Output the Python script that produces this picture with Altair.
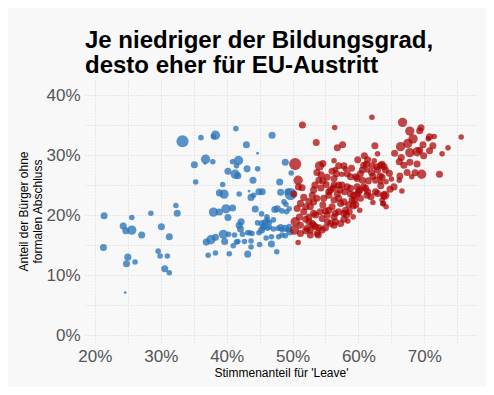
import altair as alt
import pandas as pd

# Stimmenanteil für 'Leave' (%), Anteil ohne Abschluss (%), Größenklasse (1-5)
remain_leave = [21.4,21.3,24.3,24.7,25.6,25.6,27.1,25.0,24.8,26.1,24.6,28.5,30.1,31.3,32.3,32.5,29.6,29.9,31.0,30.6,31.3,
    33.3,36.1,38.3,38.0,41.4,35.1,36.8,36.7,37.9,35.3,43.0,40.9,41.8,41.5,41.3,41.7,40.2,43.1,39.4,39.6,38.9,41.9,38.0,38.9,39.9,40.9,40.2,42.2,41.9,42.1,42.4,43.2,39.5,37.6,36.9,39.7,41.2,41.5,41.0,38.3,37.2,40.4,43.2,
    46.9,44.7,44.7,44.0,48.05,48.9,49.8,44.9,43.4,43.7,44.1,45.3,48.2,49.3,49.7,44.35,47.3,47.7,49.0,49.5,49.1,48.4,46.2,47.1,45.4,45.7,45.9,44.7,43.5,43.85,44.9,45.3,45.5,46.2,46.5,47.1,47.8,48.2,48.4,48.9,49.3,49.5,49.6,46.0,46.8,47.9,48.4,48.9,46.8,47.6,45.0,43.7,43.7,41.7,
    48.7,45.4,46.1,46.5,42.7,38.3,40.3]
remain_ohne = [19.9,14.6,18.2,17.4,17.5,19.6,16.7,13.0,11.9,12.2,7.1,20.3,18.05,16.4,21.6,20.3,14.0,13.2,13.2,11.05,10.4,
    32.3,32.9,33.3,33.05,34.4,28.4,29.3,28.6,28.9,25.5,31.7,28.9,29.1,28.2,26.8,26.55,27.3,27.7,25.1,23.5,23.7,23.5,20.5,20.5,21.05,21.2,19.6,18.9,18.3,17.7,16.8,17.05,16.8,15.9,15.5,15.6,16.7,15.5,14.9,13.7,13.3,13.55,13.5,
    33.3,30.3,27.7,25.8,25.5,28.8,27.0,23.9,24.0,22.95,23.3,20.2,23.8,23.9,23.5,21.0,20.95,21.05,21.8,21.05,20.55,20.7,19.2,19.2,18.6,18.2,18.8,18.7,17.05,16.95,17.05,17.5,17.8,17.8,18.0,17.7,17.8,17.95,17.6,17.8,17.55,18.1,17.2,16.2,16.4,16.4,16.7,16.55,15.2,13.9,15.1,15.7,14.7,15.6,
    22.2,23.9,19.7,18.75,15.6,16.3,16.8]
remain_klasse = [3,3,3,3,4,2,3,3,3,2,1,2,3,3,2,3,2,2,2,3,2,
    5,2,4,2,2,3,4,1,2,2,3,2,4,2,4,3,3,3,2,4,3,2,4,3,4,3,3,3,3,3,2,2,4,4,3,3,2,2,2,2,2,2,3,
    3,1,2,3,3,3,2,3,1,3,2,2,3,3,5,3,3,3,2,2,2,2,2,2,3,3,3,2,2,2,2,3,2,2,2,2,2,3,2,3,2,2,3,2,2,2,2,2,3,2,2,2,2,2,
    2,3,2,2,2,3,2]

leave_leave = [51.5,56.4,62.05,53.6,56.8,57.6,62.5,50.4,54.1,54.6,56.3,57.0,57.8,58.0,56.0,56.7,57.5,53.7,54.0,54.6,
    59.9,60.9,61.2,62.05,62.8,63.6,62.4,60.6,62.0,60.6,61.5,62.2,62.6,63.3,
    50.85,50.9,51.45,51.7,53.4,54.3,55.1,55.5,56.2,56.8,57.5,57.9,58.8,59.3,60.05,61.1,61.3,62.2,62.6,63.9,63.7,60.2,59.2,58.4,56.5,55.3,55.0,54.0,53.9,
    50.7,51.05,50.4,50.3,51.2,52.0,52.5,52.7,53.2,53.5,54.2,54.6,55.0,55.5,56.0,57.3,57.0,56.3,57.8,50.85,53.0,53.7,52.5,58.55,59.05,59.6,60.3,
    66.7,67.8,69.5,69.3,68.3,70.8,71.5,70.6,75.6,69.8,71.3,70.8,69.9,73.6,72.7,67.5,66.4,67.8,68.9,69.3,65.5,66.5,66.2,66.9,67.8,68.9,67.4,68.6,69.6,68.1,72.3,
    63.4,63.9,64.1,64.7,63.6,65.0,66.3,66.2,64.8,65.4,66.6,64.0,63.8,64.2,63.4,64.2,63.6,62.9,61.9,61.4,60.8,60.2,59.8,59.4,59.2,58.6,58.2,57.8,
    62.9,58.95,61.4,60.8,62.9,61.35,60.3,59.8,63.4,50.2,53.2,54.35,55.8,56.3,57.0,57.2,58.3,58.8,59.8,51.2,52.0,52.7,53.2,54.75,55.5,56.3,57.0,57.8,
    51.7,52.5,53.2,54.5,55.25,56.5,58.05,52.2,53.0,53.5,55.8,57.3,51.2,52.0,52.7,53.75,54.5,56.3,56.5,58.3,58.8,59.6,55.25,56.3]
leave_ohne = [35.0,34.6,36.3,32.1,31.2,31.7,31.55,28.5,28.2,28.6,29.05,28.2,28.2,27.7,27.3,26.9,26.8,27.1,25.8,25.7,
    29.2,29.9,28.45,28.2,28.05,28.45,29.05,27.5,27.1,25.8,25.7,26.45,25.8,26.5,
    25.8,24.7,24.55,22.95,25.0,24.5,25.1,23.9,24.5,23.55,25.0,23.9,24.45,23.3,23.9,24.45,23.3,22.1,23.9,23.3,21.9,20.8,19.7,19.0,18.9,18.9,17.9,17.9,16.7,
    21.1,19.7,18.9,17.5,18.3,19.3,18.9,17.5,18.3,20.0,20.55,21.7,20.7,20.8,21.4,21.95,20.55,19.7,20.3,15.45,23.3,22.8,22.3,21.7,22.5,21.7,22.8,
    35.45,34.0,34.55,34.05,32.7,33.05,33.1,32.7,33.0,31.7,31.55,30.7,29.9,31.2,30.2,31.95,31.4,30.4,30.55,30.8,30.3,29.6,28.9,28.3,28.8,28.5,27.1,27.05,26.8,26.4,26.8,
    28.3,28.05,27.5,26.95,26.3,26.0,26.5,25.8,24.3,24.7,24.0,23.3,21.95,21.4,24.9,25.55,22.5,23.6,23.05,23.9,24.7,24.2,23.5,22.5,21.5,20.55,20.0,19.3,
    30.2,27.8,29.2,28.3,27.5,27.5,26.9,26.1,25.55,23.5,24.2,26.7,24.2,25.0,25.0,24.2,24.7,23.5,24.7,21.95,21.4,21.4,22.2,22.8,23.3,22.5,22.8,22.2,
    20.55,19.7,20.3,19.45,20.0,20.3,20.8,17.8,18.6,18.05,18.6,18.6,16.95,17.4,16.7,16.95,17.5,18.3,27.6,26.9,26.4,26.4,26.3,26.1]
leave_klasse = [3,2,2,3,3,3,3,5,4,3,2,3,3,2,3,3,2,3,3,3,
    3,3,3,3,3,3,2,3,3,3,3,3,3,3,
    4,3,3,3,3,3,3,3,3,3,3,3,3,3,3,3,3,2,3,3,2,2,2,2,3,3,3,3,3,
    3,3,4,4,3,3,3,3,3,3,3,3,3,3,3,3,3,3,3,2,3,3,3,3,3,3,3,
    4,4,3,3,4,3,2,2,2,3,3,3,3,2,2,4,4,4,4,3,3,3,3,3,3,3,3,3,4,2,3,
    3,3,3,3,3,2,3,2,3,3,2,4,2,2,3,2,2,3,3,3,3,3,3,3,3,3,3,3,
    2,3,3,3,3,2,3,3,2,3,3,3,3,3,3,3,3,3,3,3,3,3,3,3,3,3,3,3,
    3,3,3,3,3,3,3,3,3,3,3,3,3,3,3,3,3,3,2,3,3,3,3,3]

einwohner_je_klasse = {1: 50, 2: 200, 3: 320, 4: 560, 5: 950}

df = pd.concat([
    pd.DataFrame({"leave": remain_leave, "ohne": remain_ohne, "klasse": remain_klasse, "gruppe": "Remain"}),
    pd.DataFrame({"leave": leave_leave, "ohne": leave_ohne, "klasse": leave_klasse, "gruppe": "Leave"}),
], ignore_index=True)
df["einwohner"] = df["klasse"].map(einwohner_je_klasse)

FONT = "Liberation Sans"
label_expr = "datum.value % 10 === 0 ? datum.value + '%' : ''"

chart = alt.Chart(df).mark_circle(strokeWidth=0).encode(
    x=alt.X("leave:Q",
            scale=alt.Scale(domain=[18.5, 78], nice=False, zero=False),
            axis=alt.Axis(values=list(range(20, 80, 5)), labelExpr=label_expr,
                          title="Stimmenanteil für 'Leave'", labelPadding=5,
                          titleY=33, titleBaseline="alphabetic")),
    y=alt.Y("ohne:Q",
            scale=alt.Scale(domain=[-1.3, 42.5], nice=False, zero=False),
            axis=alt.Axis(values=list(range(0, 45, 5)), labelExpr=label_expr,
                          title=["Anteil der Bürger ohne", "formalen Abschluss"],
                          labelPadding=5, titleAngle=270, titleX=-58, titleY=131,
                          titleAlign="center", titleBaseline="alphabetic", titleLineHeight=14)),
    size=alt.Size("einwohner:Q", scale=alt.Scale(domain=[0, 1000], range=[0, 155]), legend=None),
    color=alt.Color("gruppe:N", scale=alt.Scale(domain=["Remain", "Leave"], range=["#2a74b8", "#aa0000"]), legend=None),
    opacity=alt.Opacity("gruppe:N", scale=alt.Scale(domain=["Remain", "Leave"], range=[0.78, 0.72]), legend=None),
).properties(
    width=392, height=263,
    title=alt.Title(["Je niedriger der Bildungsgrad,", "desto eher für EU-Austritt"],
                    anchor="start", frame="group", fontSize=24, fontWeight="bold",
                    font=FONT, color="#000000", lineHeight=25, offset=2),
    autosize="none",
    padding={"left": 77, "top": 72, "right": 9, "bottom": 44},
    background="#f8f8f8",
).configure_view(stroke=None, fill="#f8f8f8").configure_axis(
    domain=False, ticks=False, grid=True, gridColor="#d4d4d4", gridDash=[1, 2], gridWidth=1,
    labelFont=FONT, labelFontSize=17, labelColor="#555555",
    titleFont=FONT, titleFontSize=12, titleFontWeight="normal", titleColor="#000000",
)

chart.save("out.html", embed_options={"renderer": "svg", "actions": False})
